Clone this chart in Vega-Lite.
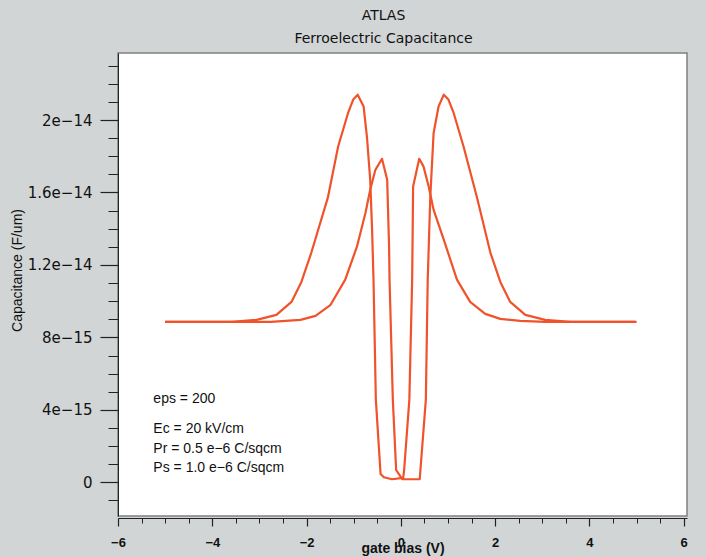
{
  "$schema": "https://vega.github.io/schema/vega-lite/v6.json",
  "width": 569,
  "height": 463,
  "autosize": "none",
  "padding": {"left": 118, "top": 53, "right": 19, "bottom": 41},
  "background": "#d1d5d6",
  "config": {
    "view": {"fill": "white", "stroke": "#808080", "strokeWidth": 1.5},
    "font": "Liberation Sans"
  },
  "title": {
    "text": "ATLAS",
    "subtitle": "Ferroelectric Capacitance",
    "anchor": "middle",
    "dx": -19,
    "offset": 7,
    "fontSize": 14,
    "fontWeight": "normal",
    "subtitleFontSize": 14,
    "subtitlePadding": 9,
    "color": "#111",
    "subtitleColor": "#111",
    "font": "DejaVu Sans",
    "subtitleFont": "DejaVu Sans"
  },
  "datasets": {
    "curve": [
      {"branch": "fwd", "i": 1, "v": -5.0, "c": 8.86e-15},
      {"branch": "fwd", "i": 2, "v": -2.76, "c": 8.86e-15},
      {"branch": "fwd", "i": 3, "v": -2.13, "c": 8.97e-15},
      {"branch": "fwd", "i": 4, "v": -1.81, "c": 9.19e-15},
      {"branch": "fwd", "i": 5, "v": -1.49, "c": 9.80e-15},
      {"branch": "fwd", "i": 6, "v": -1.18, "c": 11.19e-15},
      {"branch": "fwd", "i": 7, "v": -0.93, "c": 13.02e-15},
      {"branch": "fwd", "i": 8, "v": -0.75, "c": 14.88e-15},
      {"branch": "fwd", "i": 9, "v": -0.65, "c": 16.15e-15},
      {"branch": "fwd", "i": 10, "v": -0.54, "c": 17.25e-15},
      {"branch": "fwd", "i": 11, "v": -0.40, "c": 17.86e-15},
      {"branch": "fwd", "i": 12, "v": -0.29, "c": 16.70e-15},
      {"branch": "fwd", "i": 13, "v": -0.27, "c": 14.88e-15},
      {"branch": "fwd", "i": 14, "v": -0.25, "c": 13.02e-15},
      {"branch": "fwd", "i": 15, "v": -0.24, "c": 11.19e-15},
      {"branch": "fwd", "i": 16, "v": -0.17, "c": 4.55e-15},
      {"branch": "fwd", "i": 17, "v": -0.10, "c": 0.68e-15},
      {"branch": "fwd", "i": 18, "v": 0.03, "c": 0.17e-15},
      {"branch": "fwd", "i": 19, "v": 0.20, "c": 0.17e-15},
      {"branch": "fwd", "i": 20, "v": 0.40, "c": 0.17e-15},
      {"branch": "fwd", "i": 21, "v": 0.53, "c": 4.55e-15},
      {"branch": "fwd", "i": 22, "v": 0.57, "c": 11.19e-15},
      {"branch": "fwd", "i": 23, "v": 0.625, "c": 15.78e-15},
      {"branch": "fwd", "i": 24, "v": 0.695, "c": 19.28e-15},
      {"branch": "fwd", "i": 25, "v": 0.80, "c": 20.75e-15},
      {"branch": "fwd", "i": 26, "v": 0.91, "c": 21.40e-15},
      {"branch": "fwd", "i": 27, "v": 1.01, "c": 21.13e-15},
      {"branch": "fwd", "i": 28, "v": 1.12, "c": 20.39e-15},
      {"branch": "fwd", "i": 29, "v": 1.33, "c": 18.54e-15},
      {"branch": "fwd", "i": 30, "v": 1.61, "c": 15.78e-15},
      {"branch": "fwd", "i": 31, "v": 1.90, "c": 12.67e-15},
      {"branch": "fwd", "i": 32, "v": 2.11, "c": 11.06e-15},
      {"branch": "fwd", "i": 33, "v": 2.32, "c": 9.96e-15},
      {"branch": "fwd", "i": 34, "v": 2.64, "c": 9.24e-15},
      {"branch": "fwd", "i": 35, "v": 3.06, "c": 8.97e-15},
      {"branch": "fwd", "i": 36, "v": 3.59, "c": 8.86e-15},
      {"branch": "fwd", "i": 37, "v": 4.97, "c": 8.86e-15},
      {"branch": "rev", "i": 1, "v": 5.0, "c": 8.86e-15},
      {"branch": "rev", "i": 2, "v": 3.06, "c": 8.86e-15},
      {"branch": "rev", "i": 3, "v": 2.53, "c": 8.91e-15},
      {"branch": "rev", "i": 4, "v": 2.11, "c": 9.02e-15},
      {"branch": "rev", "i": 5, "v": 1.79, "c": 9.30e-15},
      {"branch": "rev", "i": 6, "v": 1.47, "c": 9.96e-15},
      {"branch": "rev", "i": 7, "v": 1.19, "c": 11.19e-15},
      {"branch": "rev", "i": 8, "v": 0.91, "c": 13.40e-15},
      {"branch": "rev", "i": 9, "v": 0.695, "c": 15.04e-15},
      {"branch": "rev", "i": 10, "v": 0.59, "c": 16.33e-15},
      {"branch": "rev", "i": 11, "v": 0.48, "c": 17.44e-15},
      {"branch": "rev", "i": 12, "v": 0.39, "c": 17.86e-15},
      {"branch": "rev", "i": 13, "v": 0.26, "c": 16.33e-15},
      {"branch": "rev", "i": 14, "v": 0.24, "c": 11.19e-15},
      {"branch": "rev", "i": 15, "v": 0.18, "c": 4.55e-15},
      {"branch": "rev", "i": 16, "v": 0.07, "c": 0.68e-15},
      {"branch": "rev", "i": 17, "v": 0.05, "c": 0.24e-15},
      {"branch": "rev", "i": 18, "v": -0.19, "c": 0.17e-15},
      {"branch": "rev", "i": 19, "v": -0.36, "c": 0.28e-15},
      {"branch": "rev", "i": 20, "v": -0.43, "c": 0.46e-15},
      {"branch": "rev", "i": 21, "v": -0.53, "c": 4.55e-15},
      {"branch": "rev", "i": 22, "v": -0.58, "c": 11.19e-15},
      {"branch": "rev", "i": 23, "v": -0.61, "c": 13.94e-15},
      {"branch": "rev", "i": 24, "v": -0.65, "c": 16.70e-15},
      {"branch": "rev", "i": 25, "v": -0.72, "c": 19.09e-15},
      {"branch": "rev", "i": 26, "v": -0.79, "c": 20.75e-15},
      {"branch": "rev", "i": 27, "v": -0.915, "c": 21.40e-15},
      {"branch": "rev", "i": 28, "v": -1.01, "c": 21.13e-15},
      {"branch": "rev", "i": 29, "v": -1.12, "c": 20.39e-15},
      {"branch": "rev", "i": 30, "v": -1.33, "c": 18.54e-15},
      {"branch": "rev", "i": 31, "v": -1.55, "c": 15.70e-15},
      {"branch": "rev", "i": 32, "v": -1.90, "c": 12.67e-15},
      {"branch": "rev", "i": 33, "v": -2.11, "c": 11.06e-15},
      {"branch": "rev", "i": 34, "v": -2.32, "c": 9.96e-15},
      {"branch": "rev", "i": 35, "v": -2.64, "c": 9.24e-15},
      {"branch": "rev", "i": 36, "v": -3.06, "c": 8.97e-15},
      {"branch": "rev", "i": 37, "v": -3.59, "c": 8.86e-15},
      {"branch": "rev", "i": 38, "v": -5.0, "c": 8.86e-15}
    ],
    "notes": [
      {"v": -5.25, "c": 4.38e-15, "label": "eps = 200"},
      {"v": -5.25, "c": 2.72e-15, "label": "Ec = 20 kV/cm"},
      {"v": -5.25, "c": 1.64e-15, "label": "Pr = 0.5 e−6 C/sqcm"},
      {"v": -5.25, "c": 0.55e-15, "label": "Ps = 1.0 e−6 C/sqcm"}
    ]
  },
  "layer": [
    {
      "data": {"name": "curve"},
      "mark": {"type": "line", "color": "#f0522a", "strokeWidth": 2.2, "strokeJoin": "round"},
      "encoding": {
        "x": {
          "field": "v", "type": "quantitative",
          "scale": {"domain": [-6, 6.07], "nice": false, "zero": false},
          "axis": {
            "orient": "bottom", "offset": 2,
            "values": [-6, -4, -2, 0, 2, 4, 6],
            "labelExpr": "replace(format(datum.value, 'd'), '-', '−')",
            "grid": false, "tickSize": 8, "tickColor": "#222", "tickWidth": 1.2,
            "domainColor": "#222", "domainWidth": 1,
            "labelFontSize": 13, "labelFontWeight": "bold", "labelColor": "#111", "labelPadding": 10,
            "labelFlush": false,
            "title": "gate bias (V)", "titleFontSize": 14, "titleFontWeight": "bold", "titleColor": "#111",
            "titlePadding": -8
          }
        },
        "y": {
          "field": "c", "type": "quantitative",
          "scale": {"domain": [-1.86e-15, 2.37e-14], "nice": false, "zero": false},
          "axis": {
            "orient": "left",
            "values": [0, 4e-15, 8e-15, 1.2e-14, 1.6e-14, 2e-14],
            "labelExpr": "datum.value == 0 ? '0' : replace(format(datum.value, '~e'), '-', '−')",
            "grid": false, "tickSize": 18, "tickColor": "#222", "tickWidth": 1.2,
            "domainColor": "#222", "domainWidth": 1,
            "labelFont": "DejaVu Sans", "labelFontSize": 15, "labelColor": "#111", "labelPadding": 8,
            "labelFlush": false,
            "title": "Capacitance (F/um)", "titleFontSize": 14, "titleFontWeight": "normal", "titleColor": "#111",
            "titleX": -100.5, "titleY": 217, "titleBaseline": "middle", "titleAlign": "center", "titleAngle": -90
          }
        },
        "detail": {"field": "branch"},
        "order": {"field": "i", "type": "quantitative"}
      }
    },
    {
      "data": {"name": "notes"},
      "mark": {"type": "text", "align": "left", "baseline": "alphabetic", "fontSize": 14, "color": "#111"},
      "encoding": {
        "x": {
          "field": "v", "type": "quantitative",
          "axis": {
            "orient": "bottom", "offset": 2,
            "values": [-5.5, -5, -4.5, -3.5, -3, -2.5, -1.5, -1, -0.5, 0.5, 1, 1.5, 2.5, 3, 3.5, 4.5, 5, 5.5],
            "labels": false, "domain": false, "grid": false, "title": null,
            "tickSize": 5, "tickColor": "#222", "tickWidth": 1
          }
        },
        "y": {
          "field": "c", "type": "quantitative",
          "axis": {
            "orient": "left",
            "values": [-1e-15, 1e-15, 2e-15, 3e-15, 5e-15, 6e-15, 7e-15, 9e-15, 1e-14, 1.1e-14, 1.3e-14, 1.4e-14, 1.5e-14, 1.7e-14, 1.8e-14, 1.9e-14, 2.1e-14, 2.2e-14, 2.3e-14],
            "labels": false, "domain": false, "grid": false, "title": null,
            "tickSize": 10, "tickColor": "#222", "tickWidth": 1
          }
        },
        "text": {"field": "label"}
      }
    }
  ],
  "resolve": {"axis": {"x": "independent", "y": "independent"}}
}
